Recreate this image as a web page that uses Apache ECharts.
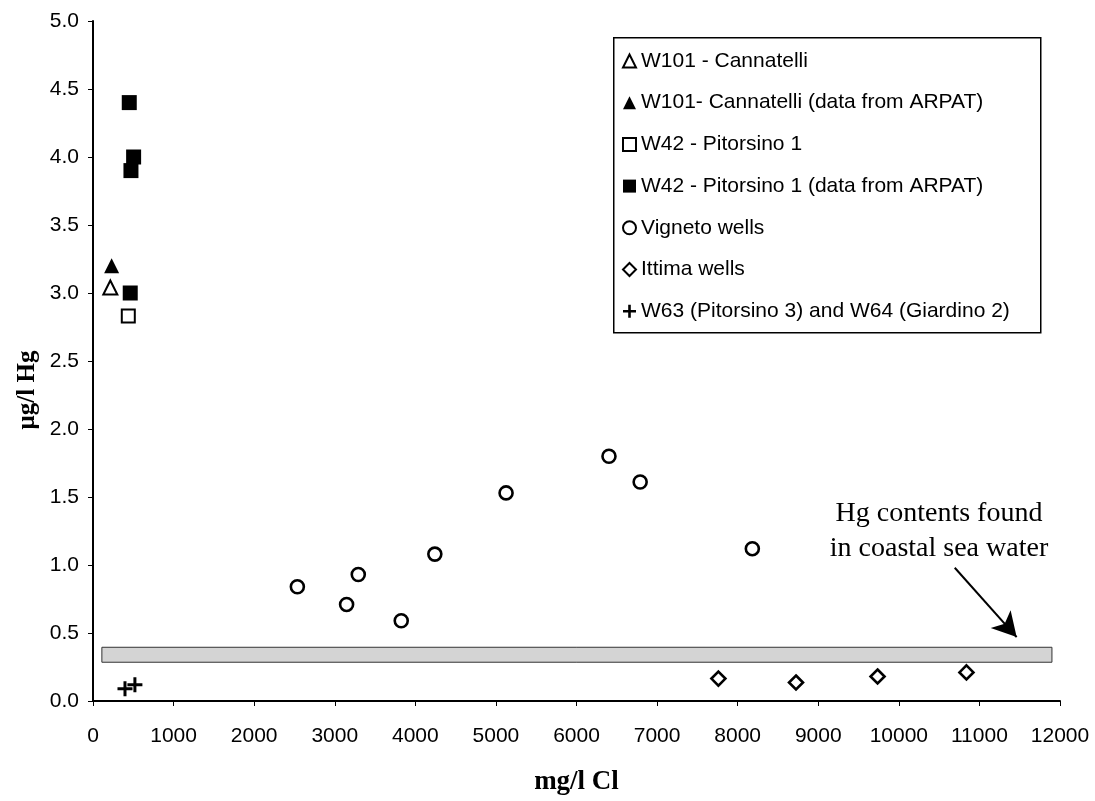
<!DOCTYPE html>
<html>
<head>
  <meta charset="utf-8">
  <title>Hg vs Cl</title>
  <script src="https://cdn.jsdelivr.net/npm/echarts/dist/echarts.min.js"></script>
  <style>
    html, body { margin: 0; padding: 0; background: #fff; }
    #chart { width: 1095px; height: 801px; }
  </style>
</head>
<body>
  <div id="chart"></div>

  <script>
    // values (x = mg/l Cl, y = µg/l Hg)
    const w101X = [215], w101Y = [3.04];
    const w101ArpatX = [231], w101ArpatY = [3.20];
    const w42X = [438], w42Y = [2.83];
    const w42ArpatX = [450, 504, 471, 462], w42ArpatY = [4.40, 4.00, 3.90, 3.00];
    const vignetoX = [2536, 3147, 3292, 3825, 4242, 5126, 6403, 6790, 8182];
    const vignetoY = [0.84, 0.71, 0.93, 0.59, 1.08, 1.53, 1.80, 1.61, 1.12];
    const ittimaX = [7761, 8724, 9736, 10839];
    const ittimaY = [0.165, 0.136, 0.18, 0.21];
    const w63X = [397, 520], w63Y = [0.09, 0.12];

    // sea water band and arrow (data units)
    const bandX = [110, 11900], bandY = [0.285, 0.395];
    const arrowFrom = [10694, 0.98], arrowTo = [11462, 0.47];

    const names = [
      'W101 - Cannatelli',
      'W101- Cannatelli (data from ARPAT)',
      'W42 - Pitorsino 1',
      'W42 - Pitorsino 1 (data from ARPAT)',
      'Vigneto wells',
      'Ittima wells',
      'W63 (Pitorsino 3) and W64 (Giardino 2)'
    ];

    const pts = (xs, ys) => xs.map((x, i) => [x, ys[i]]);
    const crossPath = 'path://M4,0h2v4h4v2h-4v4h-2v-4h-4v-2h4z';

    const openStyle = w => ({ color: '#fff', borderColor: '#000', borderWidth: w, opacity: 1 });
    const fillStyle = { color: '#000', borderWidth: 0, opacity: 1 };

    const sans = '"Liberation Sans", Arial, sans-serif';
    const serif = '"Liberation Serif", "Times New Roman", serif';

    const chart = echarts.init(document.getElementById('chart'));
    chart.setOption({
      animation: false,
      grid: { left: 93, right: 35, top: 21, bottom: 94 },
      xAxis: {
        type: 'value', min: 0, max: 12000, interval: 1000,
        name: 'mg/l Cl', nameLocation: 'middle', nameGap: 68,
        nameTextStyle: { fontFamily: serif, fontWeight: 'bold', fontSize: 27, color: '#000' },
        axisLine: { lineStyle: { color: '#000', width: 2 } },
        axisTick: { show: true, length: 5, lineStyle: { color: '#000', width: 1 } },
        axisLabel: { color: '#000', fontFamily: sans, fontSize: 21, margin: 25,
          formatter: v => String(v) },
        splitLine: { show: false }
      },
      yAxis: {
        type: 'value', min: 0, max: 5, interval: 0.5,
        axisLine: { show: true, lineStyle: { color: '#000', width: 2 } },
        axisTick: { show: true, length: 5, lineStyle: { color: '#000', width: 1 } },
        axisLabel: { color: '#000', fontFamily: sans, fontSize: 21, margin: 14,
          formatter: v => v.toFixed(1) },
        splitLine: { show: false }
      },
      legend: {
        data: names,
        orient: 'vertical',
        left: 622, top: 49,
        itemWidth: 13, itemHeight: 13,
        itemGap: 17.7,
        itemTextGap: 3,
        padding: 0,
        textStyle: { color: '#000', fontFamily: sans, fontSize: 21, lineHeight: 24 }
      },
      graphic: [
        { type: 'rect', left: 613, top: 37, z: -1,
          shape: { width: 427, height: 295 },
          style: { fill: '#fff', stroke: '#000', lineWidth: 1.5 } },
        { type: 'text', x: 28, y: 390, rotation: Math.PI / 2,
          style: { text: 'μg/l Hg', font: 'bold 25px ' + serif, fill: '#000',
            textAlign: 'center', textVerticalAlign: 'middle' } },
        { type: 'text', x: 939, y: 531,
          style: { text: 'Hg contents found\nin coastal sea water', font: '28px ' + serif,
            fill: '#000', textAlign: 'center', textVerticalAlign: 'middle', lineHeight: 35 } }
      ],
      series: [
        {
          name: names[0], type: 'scatter', symbol: 'triangle', symbolSize: 14,
          itemStyle: openStyle(2), data: pts(w101X, w101Y)
        },
        {
          name: names[1], type: 'scatter', symbol: 'triangle', symbolSize: 15,
          itemStyle: fillStyle, data: pts(w101ArpatX, w101ArpatY)
        },
        {
          name: names[2], type: 'scatter', symbol: 'rect', symbolSize: 13,
          itemStyle: openStyle(2), data: pts(w42X, w42Y)
        },
        {
          name: names[3], type: 'scatter', symbol: 'rect', symbolSize: 15,
          itemStyle: fillStyle, data: pts(w42ArpatX, w42ArpatY)
        },
        {
          name: names[4], type: 'scatter', symbol: 'circle', symbolSize: 13,
          itemStyle: openStyle(2.6), data: pts(vignetoX, vignetoY)
        },
        {
          name: names[5], type: 'scatter', symbol: 'diamond', symbolSize: 14,
          itemStyle: openStyle(2.6), data: pts(ittimaX, ittimaY)
        },
        {
          name: names[6], type: 'scatter', symbol: crossPath, symbolSize: 15,
          itemStyle: fillStyle, data: pts(w63X, w63Y)
        },
        {
          name: 'band', type: 'scatter', data: [], silent: true, z: 1,
          markArea: {
            silent: true,
            itemStyle: { color: '#d4d4d4', borderColor: '#333', borderWidth: 1 },
            data: [[{ coord: [bandX[0], bandY[0]] }, { coord: [bandX[1], bandY[1]] }]]
          },
          markLine: {
            silent: true, symbol: ['none', 'arrow'], symbolSize: [20, 24],
            label: { show: false },
            lineStyle: { color: '#000', width: 2, type: 'solid' },
            data: [[{ coord: arrowFrom }, { coord: arrowTo }]]
          }
        }
      ]
    });
  </script>
</body>
</html>
